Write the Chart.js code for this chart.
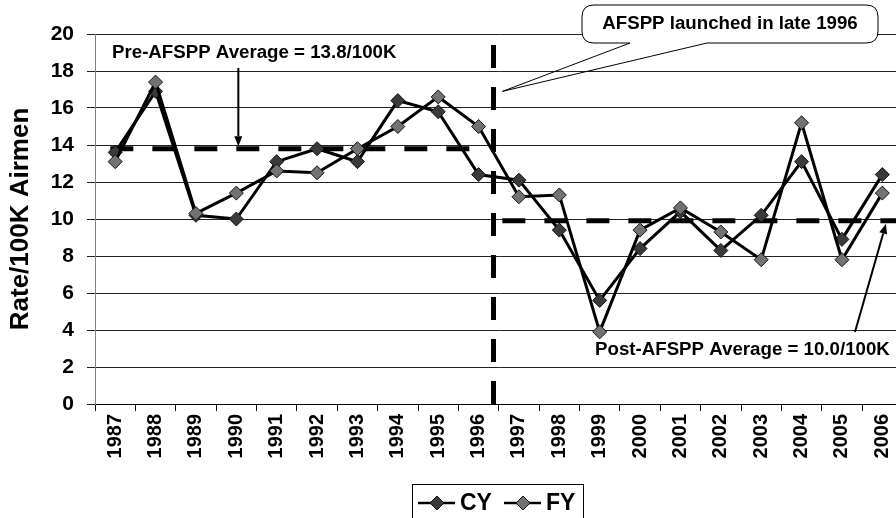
<!DOCTYPE html>
<html><head><meta charset="utf-8">
<script src="https://cdn.jsdelivr.net/npm/chart.js@4/dist/chart.umd.min.js"></script>
<style>
html,body{margin:0;padding:0;background:#fff;overflow:hidden;width:896px;height:518px;}
#wrap{position:absolute;left:0;top:0;width:920px;height:518px;}
</style></head><body>
<div id="wrap"><canvas id="c" width="920" height="518"></canvas></div>
<script>
// ---- data ----
const years = ['1987','1988','1989','1990','1991','1992','1993','1994','1995','1996',
               '1997','1998','1999','2000','2001','2002','2003','2004','2005','2006'];
const cyRates = [13.6,16.9,10.2,10.0,13.1,13.8,13.1,16.4,15.8,12.4,12.1,9.4,5.6,8.4,10.4,8.3,10.2,13.1,8.9,12.4];
const fyRates = [13.1,17.4,10.3,11.4,12.6,12.5,13.8,15.0,16.6,15.0,11.2,11.3,3.9,9.4,10.6,9.3,7.8,15.2,7.8,11.4];
const yTicks = [0,2,4,6,8,10,12,14,16,18,20];
const preAvg = 13.8;
const postAvg = 9.9;
const launchIndex = 9.37;          // late 1996, between 1996 and 1997
const preSpan = [-0.12, 8.8];
const postSpan = [9.59, 19.6];
const launchTop = 19.4;

const FONT = 'Liberation Sans, Arial, sans-serif';
const CY_FILL = '#3a3a3a', FY_FILL = '#727272';

function arrow(ctx, x1, y1, x2, y2) {
  ctx.beginPath(); ctx.moveTo(x1, y1);
  const a = Math.atan2(y2 - y1, x2 - x1);
  const hl = 10, hw = 4;
  const bx = x2 - hl * Math.cos(a), by = y2 - hl * Math.sin(a);
  ctx.lineTo(bx, by); ctx.stroke();
  ctx.beginPath();
  ctx.moveTo(x2, y2);
  ctx.lineTo(bx + hw * Math.sin(a), by - hw * Math.cos(a));
  ctx.lineTo(bx - hw * Math.sin(a), by + hw * Math.cos(a));
  ctx.closePath(); ctx.fill();
}

const annot = {
  id: 'annot',
  beforeDatasetsDraw(chart) {
    const {ctx, scales: {x, y}} = chart;
    ctx.save();
    ctx.strokeStyle = '#000'; ctx.lineWidth = 5; ctx.lineCap = 'butt';
    ctx.setLineDash([23, 19]);
    ctx.beginPath();
    ctx.moveTo(x.getPixelForValue(preSpan[0]), y.getPixelForValue(preAvg));
    ctx.lineTo(x.getPixelForValue(preSpan[1]), y.getPixelForValue(preAvg));
    ctx.stroke();
    ctx.beginPath();
    ctx.moveTo(x.getPixelForValue(postSpan[0]), y.getPixelForValue(postAvg));
    ctx.lineTo(x.getPixelForValue(postSpan[1]), y.getPixelForValue(postAvg));
    ctx.stroke();
    ctx.beginPath();
    ctx.moveTo(x.getPixelForValue(launchIndex), y.getPixelForValue(launchTop));
    ctx.lineTo(x.getPixelForValue(launchIndex), y.getPixelForValue(0));
    ctx.stroke();
    ctx.restore();
  },
  afterDatasetsDraw(chart) {
    const {ctx, scales: {x, y}} = chart;
    ctx.save();
    ctx.fillStyle = '#000'; ctx.strokeStyle = '#000';
    ctx.font = 'bold 18.7px ' + FONT;
    ctx.textBaseline = 'middle';
    ctx.textAlign = 'left';
    ctx.fillText('Pre-AFSPP Average = 13.8/100K', 112, 53);
    ctx.fillText('Post-AFSPP Average = 10.0/100K', 595, 350);
    ctx.lineWidth = 2;
    const ax = x.getPixelForValue(3.05);
    arrow(ctx, ax, 68, ax, y.getPixelForValue(preAvg) - 2.5);
    arrow(ctx, 855, 332, x.getPixelForValue(19.09), y.getPixelForValue(postAvg) + 3);

    // callout
    const L = 582, R = 878, T = 5, B = 43, r = 12;
    const tipX = x.getPixelForValue(launchIndex) + 9, tipY = y.getPixelForValue(16.9);
    ctx.beginPath();
    ctx.moveTo(L + r, T); ctx.lineTo(R - r, T); ctx.quadraticCurveTo(R, T, R, T + r);
    ctx.lineTo(R, B - r); ctx.quadraticCurveTo(R, B, R - r, B);
    ctx.lineTo(L + r, B); ctx.quadraticCurveTo(L, B, L, B - r);
    ctx.lineTo(L, T + r); ctx.quadraticCurveTo(L, T, L + r, T);
    ctx.closePath();
    ctx.fillStyle = '#fff'; ctx.fill();
    ctx.lineWidth = 1;
    ctx.beginPath();
    ctx.moveTo(L + r, T); ctx.lineTo(R - r, T); ctx.quadraticCurveTo(R, T, R, T + r);
    ctx.lineTo(R, B - r); ctx.quadraticCurveTo(R, B, R - r, B);
    ctx.lineTo(707, B); ctx.lineTo(tipX, tipY); ctx.lineTo(630, B);
    ctx.lineTo(L + r, B); ctx.quadraticCurveTo(L, B, L, B - r);
    ctx.lineTo(L, T + r); ctx.quadraticCurveTo(L, T, L + r, T);
    ctx.stroke();
    ctx.fillStyle = '#000';
    ctx.textAlign = 'center';
    ctx.fillText('AFSPP launched in late 1996', 730, 24);

    // legend
    ctx.lineWidth = 1;
    ctx.strokeRect(412.5, 484.5, 171, 40);
    const items = [
      {label: chart.data.datasets[0].label, fill: CY_FILL, x0: 418},
      {label: chart.data.datasets[1].label, fill: FY_FILL, x0: 504}
    ];
    ctx.font = 'bold 23px ' + FONT;
    ctx.textAlign = 'left';
    items.forEach(it => {
      ctx.lineWidth = 2.5;
      ctx.beginPath(); ctx.moveTo(it.x0, 503); ctx.lineTo(it.x0 + 37, 503); ctx.stroke();
      ctx.fillStyle = it.fill; ctx.strokeStyle = '#111'; ctx.lineWidth = 1;
      Chart.helpers.drawPoint(ctx, {pointStyle: 'rectRot', radius: 7, borderWidth: 1}, it.x0 + 19, 503);
      ctx.strokeStyle = '#000';
      ctx.fillStyle = '#000';
      ctx.fillText(it.label, it.x0 + 42, 504);
    });
    ctx.restore();
  }
};

const ctx = document.getElementById('c').getContext('2d');
new Chart(ctx, {
  type: 'line',
  data: {
    labels: years,
    datasets: [
      {label: 'CY', data: cyRates, borderColor: '#000', borderWidth: 3, tension: 0,
       pointStyle: 'rectRot', pointRadius: 7, pointBackgroundColor: CY_FILL,
       pointBorderColor: '#111', pointBorderWidth: 1, order: 1},
      {label: 'FY', data: fyRates, borderColor: '#000', borderWidth: 3, tension: 0,
       pointStyle: 'rectRot', pointRadius: 7, pointBackgroundColor: FY_FILL,
       pointBorderColor: '#111', pointBorderWidth: 1, order: 0}
    ]
  },
  options: {
    responsive: false, animation: false, devicePixelRatio: 1,
    layout: {padding: {left: 0, right: 17.5, top: 34, bottom: 0}},
    plugins: {legend: {display: false}, tooltip: {enabled: false}},
    scales: {
      x: {
        offset: true,
        grid: {drawOnChartArea: false, offset: true, tickLength: 7, color: '#000', lineWidth: 1},
        border: {color: '#000', width: 1},
        ticks: {maxRotation: 90, minRotation: 90, autoSkip: false, color: '#000', padding: 3,
                font: {family: FONT, weight: 'bold', size: 20}},
        afterFit(s) { s.height = 114; }
      },
      y: {
        min: 0, max: 20,
        afterBuildTicks(s) { s.ticks = yTicks.map(v => ({value: v})); },
        ticks: {color: '#000', padding: 13, font: {family: FONT, weight: 'bold', size: 21}},
        grid: {color: '#222', tickLength: 8, lineWidth: 1},
        border: {color: '#808080', width: 1},
        title: {display: true, text: 'Rate/100K Airmen', color: '#000', padding: {top: 5, bottom: 0},
                font: {family: FONT, weight: 'bold', size: 26}},
        afterFit(s) { s.width = 95; }
      }
    }
  },
  plugins: [annot]
});
</script>
</body></html>
